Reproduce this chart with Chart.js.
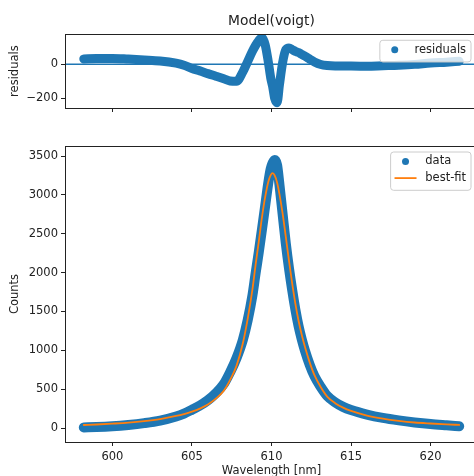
<!DOCTYPE html>
<html>
<head>
<meta charset="utf-8">
<script src="https://cdn.jsdelivr.net/npm/chart.js@4.4.1/dist/chart.umd.min.js"></script>
<style>
  html, body { margin: 0; padding: 0; background: #fff; overflow: hidden; }
  #wrap { position: relative; width: 474px; height: 476px; overflow: hidden; }
  canvas { position: absolute; left: 0; }
  #top { top: 0; }
  #bottom { top: 120px; }
</style>
</head>
<body>
<div id="wrap">
  <canvas id="top" width="490" height="120"></canvas>
  <canvas id="bottom" width="490" height="356"></canvas>
</div>
<script>
// values
const wavelength = [598.2, 599, 600, 601, 602, 603, 604, 604.5, 605, 605.5,
    606, 606.5, 607, 607.4, 607.8, 608.2, 608.5, 608.8, 609.0, 609.2,
    609.4, 609.6, 609.8, 609.95, 610.07, 610.2, 610.35, 610.5, 610.7, 610.9,
    611.1, 611.3, 611.5, 611.7, 611.9, 612.1, 612.4, 612.7, 613.1, 613.5,
    614, 614.5, 615, 616, 617, 618, 619, 620, 621, 621.8];
const counts = [8, 12, 22, 39, 63, 96, 149, 186, 236, 289,
    357, 448, 565, 718, 900, 1135, 1385, 1705, 1990, 2262,
    2555, 2855, 3157, 3335, 3410, 3450, 3385, 3130, 2750, 2375,
    2055, 1775, 1525, 1312, 1143, 998, 815, 667, 527, 413,
    330, 272, 231, 173, 130, 98, 72, 51, 35, 23];
const bestFit = [39, 45, 56, 69, 88, 115, 155, 180, 211, 250,
    302, 378, 480, 620, 800, 1090, 1400, 1780, 2100, 2400,
    2710, 2970, 3170, 3255, 3280, 3250, 3160, 3010, 2760, 2460,
    2150, 1860, 1600, 1380, 1200, 1045, 845, 680, 525, 405,
    320, 262, 220, 161, 121, 92, 71, 58, 47, 40];
const residuals = [31, 33, 34, 30, 25, 19, 6, -6, -25, -39,
    -55, -70, -85, -98, -100, -45, 15, 75, 110, 138,
    155, 115, 13, -80, -130, -200, -225, -120, 10, 85,
    95, 85, 75, 68, 57, 47, 30, 13, -2, -8,
    -10, -10, -11, -12, -9, -6, -1, 7, 12, 17];

const xTicks = [600, 605, 610, 615, 620];
const countTicks = [0, 500, 1000, 1500, 2000, 2500, 3000, 3500];
const residualTicks = [-200, 0];
const xRange = [597.02, 622.98];
const countRange = [-180, 3629];
const residualRange = [-256, 175];

const blue = '#1f77b4';
const orange = '#ff7f0e';
const ink = '#222222';
const family = '"DejaVu Sans", sans-serif';
const fontSize = 11.5;

function fmt(v) {
    return v < 0 ? '\u2212' + Math.abs(v) : String(v);
}

function pts(ys) {
    return wavelength.map(function(x, i) { return {x: x, y: ys[i]}; });
}

// matplotlib style box round the plot area
const frame = {
    id: 'frame',
    afterDraw(chart) {
        const a = chart.chartArea, ctx = chart.ctx;
        ctx.save();
        ctx.strokeStyle = ink;
        ctx.lineWidth = 1;
        ctx.strokeRect(Math.round(a.left) + 0.5, Math.round(a.top) + 0.5,
                       Math.round(a.right - a.left), Math.round(a.bottom - a.top));
        ctx.restore();
    }
};

// legend box in the upper right corner
const mplLegend = {
    id: 'mplLegend',
    afterDraw(chart) {
        const items = chart.data.datasets.filter(function(d) { return d.label; });
        const ctx = chart.ctx, a = chart.chartArea;
        ctx.save();
        ctx.font = fontSize + 'px ' + family;
        let textw = 0;
        items.forEach(function(d) { textw = Math.max(textw, ctx.measureText(d.label).width); });
        const pad = 4.4, handle = 22, gap = 8.8, step = 16.6;
        const w = pad + handle + gap + textw + pad;
        const h = 10 + step * (items.length - 1) + 11.7;
        const right = a.right - 7.5, top = a.top + 5.5, left = right - w;
        ctx.fillStyle = 'rgba(255,255,255,0.8)';
        ctx.strokeStyle = '#cccccc';
        ctx.lineWidth = 1;
        ctx.beginPath();
        ctx.roundRect(left + 0.5, top + 0.5, w, h, 3);
        ctx.fill();
        ctx.stroke();
        items.forEach(function(d, i) {
            const y = top + 10 + step * i;
            const hx = left + pad;
            if (d.legendMarker === 'dot') {
                ctx.fillStyle = d.borderColor;
                ctx.beginPath();
                ctx.arc(hx + handle / 2, y, 3.5, 0, Math.PI * 2);
                ctx.fill();
            } else {
                ctx.strokeStyle = d.borderColor;
                ctx.lineWidth = d.borderWidth;
                ctx.beginPath();
                ctx.moveTo(hx, y);
                ctx.lineTo(hx + handle, y);
                ctx.stroke();
            }
            ctx.fillStyle = ink;
            ctx.textBaseline = 'middle';
            ctx.textAlign = 'left';
            ctx.fillText(d.label, hx + handle + gap, y);
        });
        ctx.restore();
    }
};

function tickGrid() {
    return {drawOnChartArea: false, drawTicks: true, tickLength: 4,
            tickColor: ink, tickWidth: 1, lineWidth: 1};
}

function xScale(showLabels, height) {
    return {
        type: 'linear', min: xRange[0], max: xRange[1],
        afterBuildTicks: function(s) { s.ticks = xTicks.map(function(v) { return {value: v}; }); },
        afterFit: function(s) { s.height = height; },
        ticks: {
            autoSkip: false, maxRotation: 0, padding: 4, color: ink,
            font: {family: family, size: fontSize},
            callback: function(v) { return showLabels ? fmt(v) : ''; }
        },
        title: {
            display: showLabels, text: 'Wavelength [nm]', color: ink,
            font: {family: family, size: fontSize}, padding: {top: 0, bottom: -1.5}
        },
        grid: tickGrid(),
        border: {display: false}
    };
}

function yScale(range, tickvals, label) {
    return {
        type: 'linear', min: range[0], max: range[1],
        afterBuildTicks: function(s) { s.ticks = tickvals.map(function(v) { return {value: v}; }); },
        afterFit: function(s) { s.width = 65; },
        ticks: {
            autoSkip: false, padding: 3, color: ink,
            font: {family: family, size: fontSize},
            callback: function(v) { return fmt(v); }
        },
        title: {
            display: true, text: label, color: ink,
            font: {family: family, size: fontSize}, padding: {top: 8, bottom: 0}
        },
        grid: tickGrid(),
        border: {display: false}
    };
}

const lineBase = {
    pointRadius: 0, cubicInterpolationMode: 'monotone', clip: 0,
    borderCapStyle: 'round', borderJoinStyle: 'round', fill: false
};

// residuals panel
new Chart(document.getElementById('top'), {
    type: 'line',
    data: {
        datasets: [
            Object.assign({}, lineBase, {
                label: 'residuals', legendMarker: 'dot', data: pts(residuals),
                borderColor: blue, backgroundColor: blue, borderWidth: 9, order: 2
            }),
            Object.assign({}, lineBase, {
                label: '', data: [{x: xRange[0], y: 0}, {x: xRange[1], y: 0}],
                borderColor: blue, borderWidth: 1.5, order: 1
            })
        ]
    },
    options: {
        responsive: false, animation: false, events: [],
        layout: {padding: {top: 0, right: 12, left: 0, bottom: 0}},
        plugins: {
            legend: {display: false},
            tooltip: {enabled: false},
            title: {
                display: true, text: 'Model(voigt)', fullSize: false, color: ink,
                font: {family: family, size: 13.8, weight: 'normal'},
                padding: {top: 13.5, bottom: 4.2}
            }
        },
        scales: {
            x: xScale(false, 12),
            y: yScale(residualRange, residualTicks, 'residuals')
        }
    },
    plugins: [frame, mplLegend]
});

// data and fit panel
new Chart(document.getElementById('bottom'), {
    type: 'line',
    data: {
        datasets: [
            Object.assign({}, lineBase, {
                label: 'data', legendMarker: 'dot', data: pts(counts),
                borderColor: blue, backgroundColor: blue, borderWidth: 10, order: 2
            }),
            Object.assign({}, lineBase, {
                label: 'best-fit', data: pts(bestFit),
                borderColor: orange, backgroundColor: orange, borderWidth: 1.8, order: 1
            })
        ]
    },
    options: {
        responsive: false, animation: false, events: [],
        layout: {padding: {top: 26, right: 12, left: 0, bottom: 0}},
        plugins: {
            legend: {display: false},
            tooltip: {enabled: false}
        },
        scales: {
            x: xScale(true, 34),
            y: yScale(countRange, countTicks, 'Counts')
        }
    },
    plugins: [frame, mplLegend]
});
</script>
</body>
</html>
